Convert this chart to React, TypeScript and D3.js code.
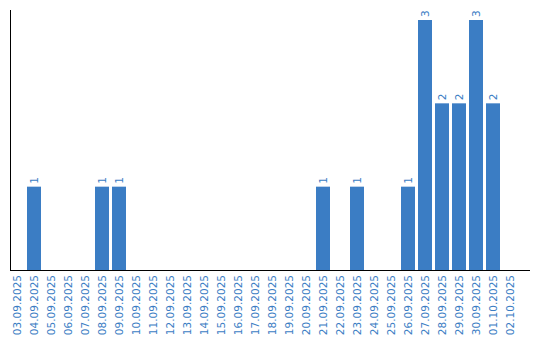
import React from "react";
import * as d3 from "d3";

const categories = [
  "03.09.2025","04.09.2025","05.09.2025","06.09.2025","07.09.2025","08.09.2025","09.09.2025",
  "10.09.2025","11.09.2025","12.09.2025","13.09.2025","14.09.2025","15.09.2025","16.09.2025",
  "17.09.2025","18.09.2025","19.09.2025","20.09.2025","21.09.2025","22.09.2025","23.09.2025",
  "24.09.2025","25.09.2025","26.09.2025","27.09.2025","28.09.2025","29.09.2025","30.09.2025",
  "01.10.2025","02.10.2025",
];
const values = [0,1,0,0,0,1,1,0,0,0,0,0,0,0,0,0,0,0,1,0,1,0,0,1,3,2,2,3,2,0];

const W = 540, H = 340;
const BAR = "#3b7dc4";
const FONT = "'DejaVu Sans', Verdana, sans-serif";

export default function App() {
  const x = d3.scaleBand<string>()
    .domain(categories)
    .range([8.5, 518.5])
    .paddingInner(3 / 17)
    .paddingOuter(1.5 / 17);
  const maxV = d3.max(values) ?? 1;
  const y = d3.scaleLinear().domain([0, maxV * 1.04]).range([270, 10]);
  const base = y(0);
  return (
    <svg width={W} height={H} style={{ position: "absolute", left: 0, top: 0, display: "block" }}>
      <rect x={0} y={0} width={W} height={H} fill="#fff" />
      {categories.map((c, i) => {
        const v = values[i];
        if (!v) return null;
        const bx = x(c)!;
        return (
          <g key={c}>
            <rect x={bx} y={y(v)} width={x.bandwidth()} height={base - y(v)} fill={BAR} />
            <text
              transform={`translate(${bx + x.bandwidth() / 2 + 4},${y(v) - 3}) rotate(-90)`}
              fontFamily={FONT}
              fontSize={10.5}
              fill={BAR}
            >{v}</text>
          </g>
        );
      })}
      {categories.map((c) => (
        <text
          key={"l" + c}
          transform={`translate(${x(c)! + x.bandwidth() / 2 + 4},${base + 5}) rotate(-90)`}
          textAnchor="end"
          fontFamily={FONT}
          fontSize={10.5}
          fill={BAR}
        >{c}</text>
      ))}
      <line x1={10.5} x2={10.5} y1={10} y2={base} stroke="#000" strokeWidth={1} />
      <line x1={10} x2={530} y1={base + 0.5} y2={base + 0.5} stroke="#000" strokeWidth={1} />
    </svg>
  );
}
